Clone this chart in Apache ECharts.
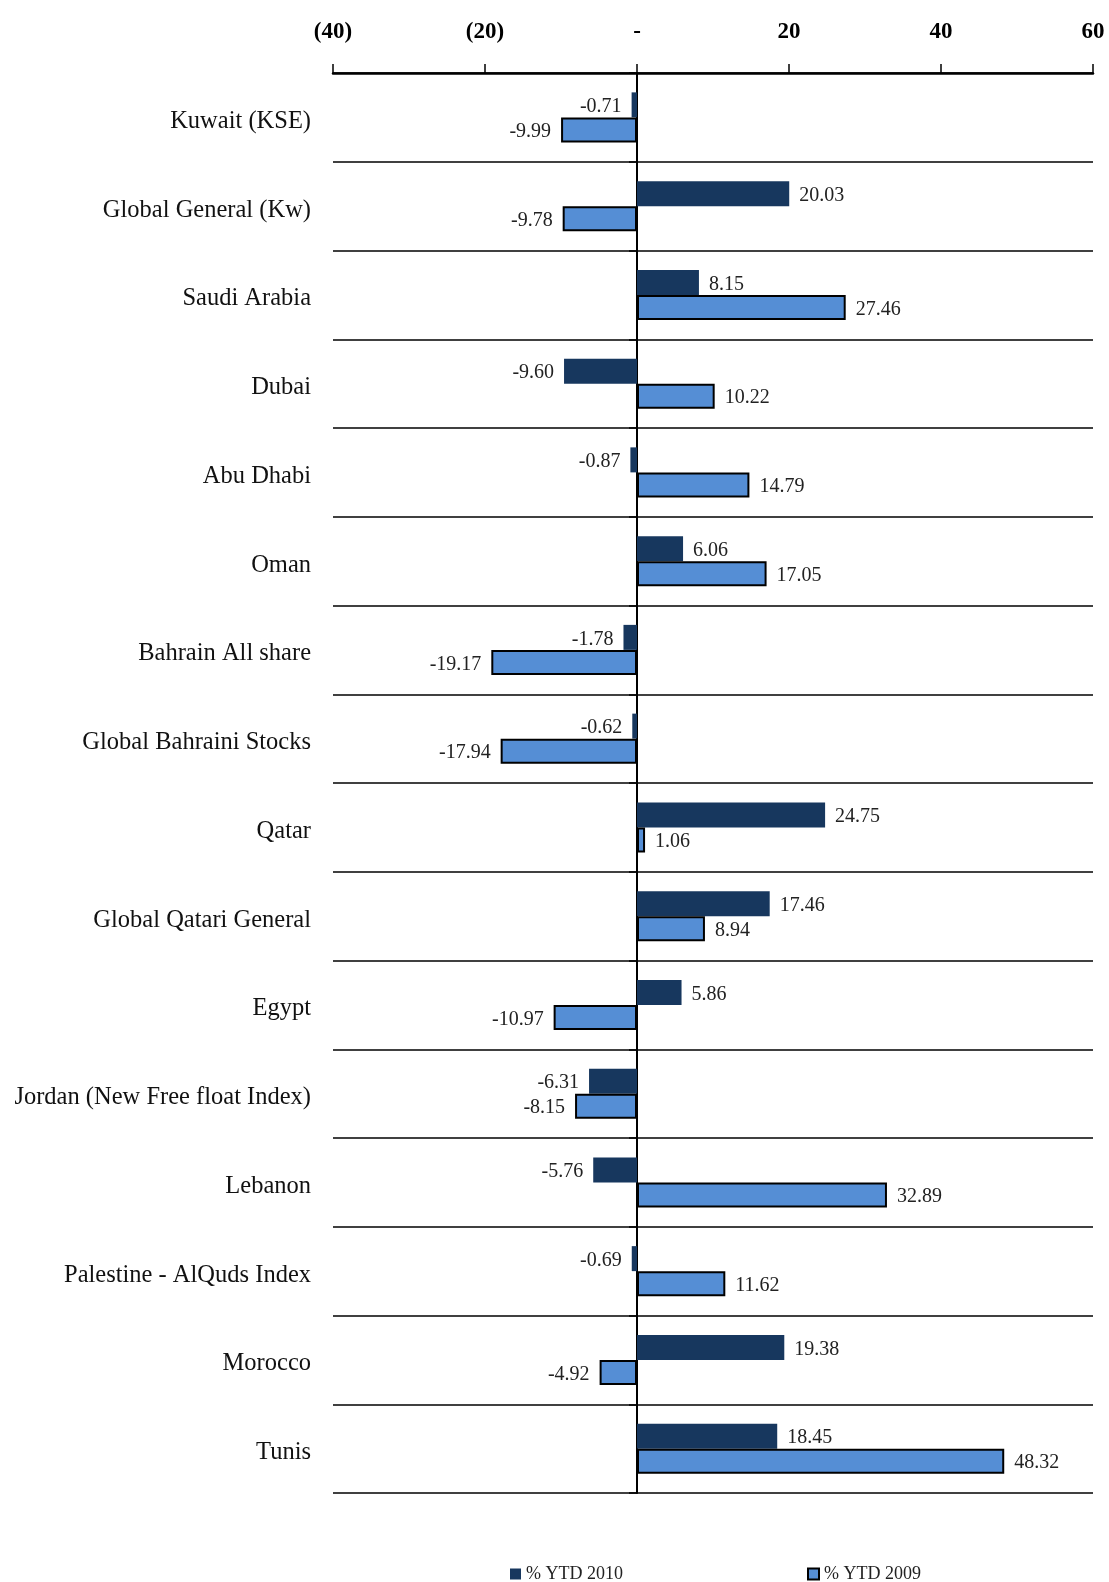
<!DOCTYPE html>
<html>
<head>
<meta charset="utf-8">
<script src="https://cdn.jsdelivr.net/npm/echarts@6/dist/echarts.min.js"></script>
<style>html,body{margin:0;padding:0;background:#fff;}#c{width:1109px;height:1582px;}</style>
</head>
<body>
<div id="c"></div>
<script>
const categories = ['Kuwait (KSE)','Global General (Kw)','Saudi Arabia','Dubai','Abu Dhabi','Oman','Bahrain All share','Global Bahraini Stocks','Qatar','Global Qatari General','Egypt','Jordan (New Free float Index)','Lebanon','Palestine - AlQuds Index','Morocco','Tunis'];
const ytd2010 = [-0.71, 20.03, 8.15, -9.60, -0.87, 6.06, -1.78, -0.62, 24.75, 17.46, 5.86, -6.31, -5.76, -0.69, 19.38, 18.45];
const ytd2009 = [-9.99, -9.78, 27.46, 10.22, 14.79, 17.05, -19.17, -17.94, 1.06, 8.94, -10.97, -8.15, 32.89, 11.62, -4.92, 48.32];
const seriesNames = ['% YTD 2010', '% YTD 2009'];
const tickLabels = {'-40':'(40)','-20':'(20)','0':'-','20':'20','40':'40','60':'60'};

const FONT = '"Liberation Serif", "Times New Roman", serif';
const mk = arr => arr.map(v => ({value: v, label: {position: v < 0 ? 'left' : 'right'}}));

const chart = echarts.init(document.getElementById('c'), null, {renderer: 'canvas'});
chart.setOption({
  animation: false,
  backgroundColor: '#ffffff',
  textStyle: {fontFamily: FONT},
  grid: {left: 333, right: 16, top: 73, bottom: 89, containLabel: false},
  legend: [
    {data: [{name: seriesNames[0], icon: 'rect'}], left: 505, top: 1560, itemWidth: 11, itemHeight: 11, itemGap: 4,
     textStyle: {fontFamily: FONT, fontSize: 18, color: '#222'}},
    {data: [{name: seriesNames[1], icon: 'rect'}], left: 802, top: 1560, itemWidth: 11, itemHeight: 11, itemGap: 4,
     textStyle: {fontFamily: FONT, fontSize: 18, color: '#222'}}
  ],
  xAxis: {
    type: 'value', position: 'top', min: -40, max: 60, interval: 20,
    axisLine: {show: true, onZero: false, lineStyle: {color: '#000', width: 2.5}},
    axisTick: {show: true, length: 9, lineStyle: {color: '#000', width: 1.5}},
    splitLine: {show: false},
    axisLabel: {margin: 29, fontFamily: FONT, fontSize: 23, fontWeight: 'bold', color: '#000',
      formatter: v => tickLabels[String(v)] !== undefined ? tickLabels[String(v)] : String(v)}
  },
  yAxis: [
    {
      type: 'category', data: categories, inverse: true,
      axisLine: {show: false, onZero: false},
      axisTick: {show: false},
      splitLine: {show: true, lineStyle: {color: '#000', width: 1.5}},
      axisLabel: {margin: 22, fontFamily: FONT, fontSize: 24.5, color: '#111', verticalAlign: 'top', lineHeight: 8}
    },
    {
      type: 'category', data: categories, inverse: true, position: 'left',
      axisLine: {show: true, onZero: true, lineStyle: {color: '#000', width: 2}},
      axisTick: {show: true, length: 8, lineStyle: {color: '#000', width: 1.5}},
      axisLabel: {show: false},
      splitLine: {show: false}
    }
  ],
  series: [
    {
      name: seriesNames[0], type: 'bar', yAxisIndex: 0, data: mk(ytd2010),
      barWidth: 25, barGap: '0%',
      itemStyle: {color: '#17375e'},
      label: {show: true, distance: 10, offset: [0, 2], fontFamily: FONT, fontSize: 20, color: '#222',
        formatter: p => p.value.toFixed(2)}
    },
    {
      name: seriesNames[1], type: 'bar', yAxisIndex: 0, data: mk(ytd2009),
      barWidth: 25, barGap: '0%',
      itemStyle: {color: '#558ed5', borderColor: '#000', borderWidth: 2},
      label: {show: true, distance: 10, offset: [0, 2], fontFamily: FONT, fontSize: 20, color: '#222',
        formatter: p => p.value.toFixed(2)}
    }
  ]
});
</script>
</body>
</html>
